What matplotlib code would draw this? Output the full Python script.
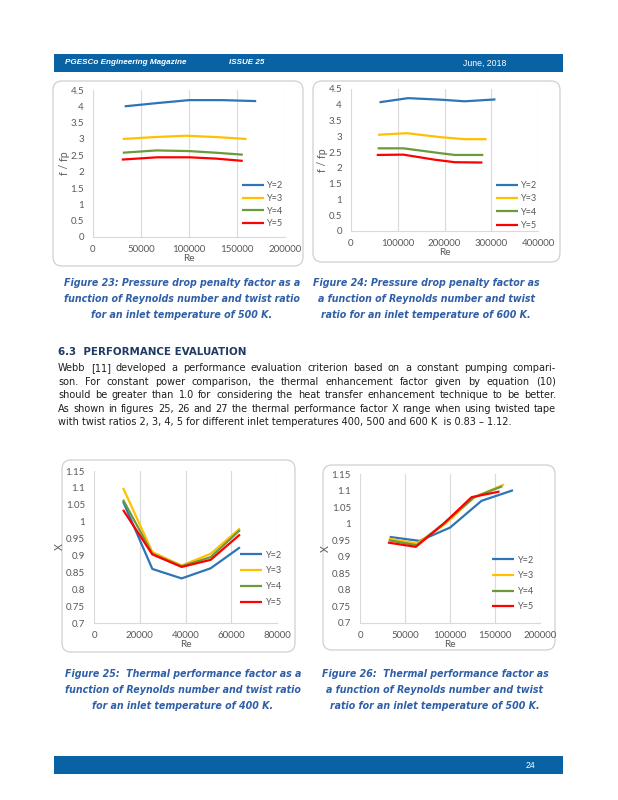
import matplotlib
matplotlib.use("Agg")
import matplotlib.pyplot as plt
from matplotlib.patches import FancyBboxPatch, Rectangle

W, H = 618, 800

# ---- data ----
labels = ["Y=2", "Y=3", "Y=4", "Y=5"]
colors = ["#2E75B6", "#FFC000", "#6A9A3A", "#FF0000"]

# Figure 23: f/fp vs Re, 500 K
re23 = [[33000, 67000, 100000, 135000, 170000],
        [31000, 65000, 97000, 128000, 160000],
        [31000, 66000, 100000, 128000, 156000],
        [30000, 67000, 100000, 128000, 156000]]
ff23 = [[4.00, 4.10, 4.19, 4.19, 4.16],
        [3.00, 3.06, 3.10, 3.06, 3.00],
        [2.58, 2.65, 2.63, 2.58, 2.52],
        [2.37, 2.44, 2.44, 2.40, 2.33]]

# Figure 24: f/fp vs Re, 600 K
re24 = [[61000, 122000, 194000, 243000, 309000],
        [58000, 119000, 194000, 243000, 290000],
        [57000, 112000, 194000, 222000, 283000],
        [55000, 112000, 179000, 222000, 281000]]
ff24 = [[4.08, 4.21, 4.16, 4.11, 4.17],
        [3.05, 3.10, 2.97, 2.91, 2.91],
        [2.62, 2.62, 2.46, 2.41, 2.41],
        [2.41, 2.42, 2.26, 2.18, 2.17]]

# Figure 25: X vs Re, 400 K
re25 = [12700, 25500, 38300, 51000, 63800]
x25 = [[1.060, 0.860, 0.832, 0.862, 0.924],
       [1.100, 0.910, 0.870, 0.905, 0.980],
       [1.065, 0.905, 0.868, 0.895, 0.975],
       [1.035, 0.903, 0.866, 0.887, 0.962]]

# Figure 26: X vs Re, 500 K
re26 = [[33000, 66000, 100000, 135000, 170000],
        [32000, 63000, 95000, 127000, 160000],
        [32000, 63000, 95000, 127000, 158000],
        [31000, 62000, 93000, 124000, 155000]]
x26 = [[0.960, 0.948, 0.988, 1.069, 1.101],
       [0.955, 0.940, 1.000, 1.080, 1.118],
       [0.950, 0.935, 1.005, 1.080, 1.113],
       [0.943, 0.930, 1.000, 1.080, 1.097]]

caption23 = ["Figure 23: Pressure drop penalty factor as a",
             "function of Reynolds number and twist ratio",
             "for an inlet temperature of 500 K."]
caption24 = ["Figure 24: Pressure drop penalty factor as",
             "a function of Reynolds number and twist",
             "ratio for an inlet temperature of 600 K."]
caption25 = ["Figure 25:  Thermal performance factor as a",
             "function of Reynolds number and twist ratio",
             "for an inlet temperature of 400 K."]
caption26 = ["Figure 26:  Thermal performance factor as",
             "a function of Reynolds number and twist",
             "ratio for an inlet temperature of 500 K."]

body = ["Webb [11] developed a performance evaluation criterion based on a constant pumping compari-",
        "son. For constant power comparison, the thermal enhancement factor given by equation (10)",
        "should be greater than 1.0 for considering the heat transfer enhancement technique to be better.",
        "As shown in figures 25, 26 and 27 the thermal performance factor X range when using twisted tape",
        "with twist ratios 2, 3, 4, 5 for different inlet temperatures 400, 500 and 600 K  is 0.83 \u2013 1.12."]

fig = plt.figure(figsize=(W / 100, H / 100), dpi=100)
fig.patch.set_facecolor("white")
renderer = fig.canvas.get_renderer()

BAR = "#0862A4"
CAP = "#2F5FA8"
GREY = "#595959"
CHART_FONT = "Lato"
TEXT_FONT = "DejaVu Sans"


def fx(x):
    return x / W


def fy(y):
    return 1 - y / H


def text_width(s, size, **kw):
    t = fig.text(0, 0, s, fontsize=size, **kw)
    w = t.get_window_extent(renderer).width
    t.remove()
    return w


def fit_size(s, target, **kw):
    # font size that makes s span target pixels
    return 10 * target / text_width(s, 10, **kw)


def box(x0, y0, x1, y1):
    # rounded chart frame, drawn in inches so corners stay round
    p = FancyBboxPatch((x0 / 100, (H - y1) / 100), (x1 - x0) / 100, (y1 - y0) / 100,
                       boxstyle="round,pad=0,rounding_size=0.09",
                       transform=fig.dpi_scale_trans, fc="white", ec="#D0D0D0", lw=0.9,
                       zorder=-1)
    fig.patches.append(p)


def chart(rect, xs, ys, xmax, xstep, ymin, ymax, ystep, yfmt, ylabel, leg_anchor, labelspace):
    x0, y0, x1, y1 = rect
    ax = fig.add_axes([fx(x0), fy(y1), fx(x1 - x0), (y1 - y0) / H], zorder=2)
    ax.patch.set_alpha(0)
    for i in range(4):
        ax.plot(xs[i], ys[i], color=colors[i], lw=1.6, label=labels[i], solid_capstyle="butt")
    ax.set_xlim(0, xmax)
    ax.set_ylim(ymin, ymax)
    xt = list(range(0, xmax + 1, xstep))
    ax.set_xticks(xt)
    ax.set_xticklabels([str(v) for v in xt])
    n = int(round((ymax - ymin) / ystep))
    yt = [ymin + k * ystep for k in range(n + 1)]
    ax.set_yticks(yt)
    ax.set_yticklabels([yfmt(v) for v in yt])
    for s in ["top", "right", "left"]:
        ax.spines[s].set_visible(False)
    ax.spines["bottom"].set_color("#D9D9D9")
    ax.spines["bottom"].set_linewidth(0.8)
    ax.grid(axis="x", color="#D9D9D9", lw=0.8)
    ax.set_axisbelow(True)
    ax.tick_params(length=0, labelsize=7, labelcolor=GREY)
    ax.tick_params(axis="x", pad=5.5)
    ax.tick_params(axis="y", pad=6.5)
    for t in ax.get_xticklabels() + ax.get_yticklabels():
        t.set_family(CHART_FONT)
    ax.set_xlabel("Re", fontsize=7.3, color=GREY, family=CHART_FONT, labelpad=0.5)
    ax.set_ylabel(ylabel, fontsize=7.6, color=GREY, family=CHART_FONT, labelpad=0.5)
    leg = ax.legend(loc="center left", bbox_to_anchor=leg_anchor, frameon=False,
                    handlelength=2.4, handletextpad=0.25, labelspacing=labelspace,
                    borderaxespad=0, borderpad=0,
                    prop={"family": CHART_FONT, "size": 6.6})
    for t in leg.get_texts():
        t.set_color(GREY)
    return ax


def fmt_plain(v):
    s = ("%.2f" % v).rstrip("0").rstrip(".")
    return s


# header and footer bars
fig.patches.append(Rectangle((fx(54), fy(72)), fx(563 - 54), (72 - 54) / H,
                             transform=fig.transFigure, fc=BAR, ec="none"))
fig.patches.append(Rectangle((fx(54), fy(774)), fx(563 - 54), (774 - 756) / H,
                             transform=fig.transFigure, fc=BAR, ec="none"))
fig.text(fx(65), fy(63), "PGESCo Engineering Magazine", color="white", fontsize=5.9,
         weight="bold", style="italic", family="Liberation Sans", va="center")
fig.text(fx(229), fy(63), "ISSUE 25", color="white", fontsize=5.8,
         weight="bold", style="italic", family="Liberation Sans", va="center")
fig.text(fx(463), fy(63), "June, 2018", color="white", fontsize=6.3,
         family="Liberation Sans", va="center")
fig.text(fx(526), fy(765), "24", color="white", fontsize=6.3,
         family="Liberation Sans", va="center")

# chart frames
box(53, 81, 303, 266)
box(313, 81, 560, 262)
box(62, 460, 295, 652)
box(323, 465, 555, 650)

chart((93, 90, 285, 237), re23, ff23, 200000, 50000, 0, 4.5, 0.5, fmt_plain, "f / fp",
      (0.775, 0.22), 0.42)
chart((351, 89, 538, 231), re24, ff24, 400000, 100000, 0, 4.5, 0.5, fmt_plain, "f / fp",
      (0.775, 0.18), 0.47)
chart((94, 471, 277, 623), [re25] * 4, x25, 80000, 20000, 0.7, 1.15, 0.05, fmt_plain, "X",
      (0.80, 0.29), 0.75)
chart((360, 474, 540, 623), re26, x26, 200000, 50000, 0.7, 1.15, 0.05, fmt_plain, "X",
      (0.735, 0.265), 0.72)

# captions: size fitted to the measured width of a reference line
cap_kw = dict(weight="bold", style="italic", family=TEXT_FONT)
cap_size = fit_size("function of Reynolds number and twist ratio", 237, **cap_kw)


def caption(lines, cx, ys):
    for line, y in zip(lines, ys):
        fig.text(fx(cx), fy(y), line, ha="center", va="center", fontsize=cap_size,
                 color=CAP, **cap_kw)


caption(caption23, 182, [283, 299, 315])
caption(caption24, 426, [283, 299, 315])
caption(caption25, 183, [674, 690, 706])
caption(caption26, 435, [674, 690, 706])

# section heading
head = "6.3  PERFORMANCE EVALUATION"
head_size = fit_size(head, 189, weight="bold", family=TEXT_FONT)
fig.text(fx(58), fy(352), head, fontsize=head_size, weight="bold",
         family=TEXT_FONT, color="#1F3A64", va="center")

# body text, first four lines justified
body_size = fit_size(body[-1], 455, family=TEXT_FONT)
left, right = 58, 556
line_y = [368, 382, 395, 409, 422]
for k, (line, y) in enumerate(zip(body, line_y)):
    if k == len(body) - 1:
        fig.text(fx(left), fy(y), line, fontsize=body_size, family=TEXT_FONT,
                 color="#1E1E1E", va="center")
        continue
    words = line.split(" ")
    items = []
    widths = []
    for w in words:
        t = fig.text(0, fy(y), w, fontsize=body_size, family=TEXT_FONT,
                     color="#1E1E1E", va="center")
        items.append(t)
        widths.append(t.get_window_extent(renderer).width)
    gap = (right - left - sum(widths)) / (len(words) - 1)
    x = left
    for t, wd in zip(items, widths):
        t.set_x(fx(x))
        x += wd + gap

fig.savefig("out.png", dpi=100, facecolor="white")
